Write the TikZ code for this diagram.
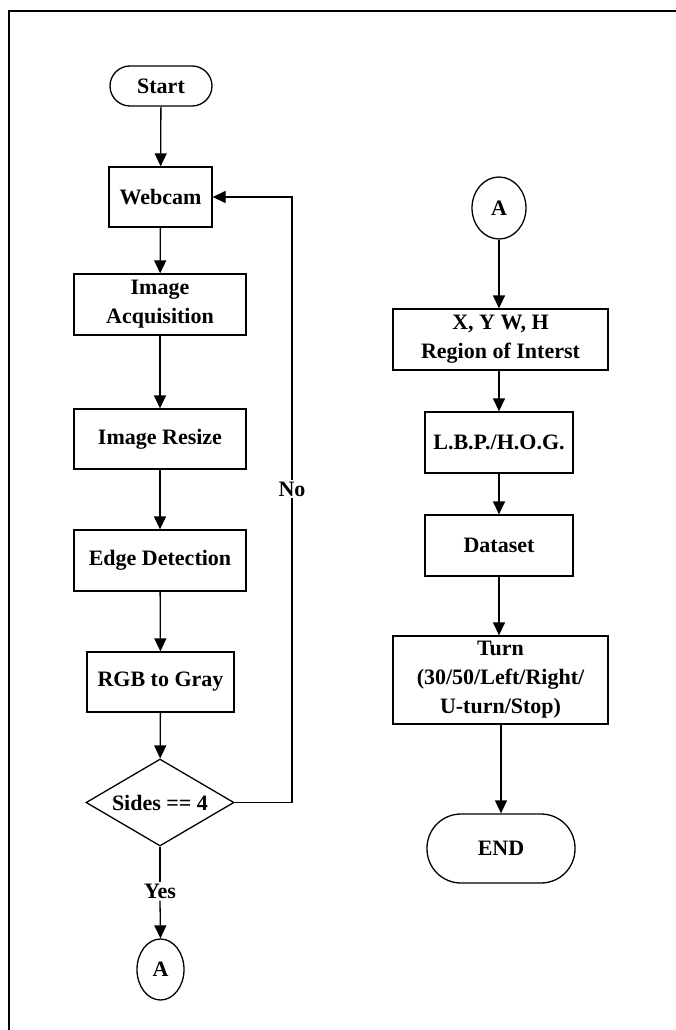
\documentclass[tikz,border=0pt]{standalone}
\usepackage{fontspec}
\setmainfont{Liberation Serif}
\usetikzlibrary{shapes.geometric,arrows.meta}
\tikzset{
  every node/.style={font=\bfseries\fontsize{22}{29}\selectfont, inner sep=0pt, align=center},
  procbox/.style={draw, rectangle, line width=1.3pt},
  termbox/.style={draw, rectangle, line width=1.3pt},
  connector/.style={draw, ellipse, line width=1.3pt},
  decision/.style={draw, diamond, aspect=1.7, line width=1.3pt},
  edgelabel/.style={inner xsep=0pt, inner ysep=2pt},
  flow/.style={line width=1.3pt, -{Triangle[length=13pt,width=12pt]}},
  plain/.style={line width=1.3pt}
}
\begin{document}
\begin{tikzpicture}[x=1pt,y=-1pt]
\useasboundingbox (0,0) rectangle (675,1030);
% frame
\draw[line width=2pt] (9,1032) -- (9,11) -- (677,11);

% left column
\node[termbox, rounded corners=20pt, minimum width=102pt, minimum height=40pt] (start) at (161,86) {Start};
\node[procbox, minimum width=103pt, minimum height=60pt] (webcam) at (160.5,197) {Webcam};
\node[procbox, minimum width=172pt, minimum height=61pt] (acq) at (160,304.5) {Image\\Acquisition};
\node[procbox, minimum width=172pt, minimum height=60pt] (resize) at (160,439) {Image Resize};
\node[procbox, minimum width=172pt, minimum height=61pt] (edge) at (160,560.5) {Edge Detection};
\node[procbox, minimum width=147pt, minimum height=60pt] (rgb) at (160.5,682) {RGB to Gray};
\node[decision, minimum width=148pt, minimum height=87pt] (dec) at (160,802.5) {Sides == 4};
\node[edgelabel] (yes) at (160,891) {Yes};
\node[connector, minimum width=47pt, minimum height=61pt] (ca) at (160.5,969.5) {A};
\node[edgelabel, inner ysep=1pt] (no) at (292,489) {No};

\draw[flow] (start) -- (webcam);
\draw[flow] (webcam) -- (acq);
\draw[flow] (acq) -- (resize);
\draw[flow] (resize) -- (edge);
\draw[flow] (edge) -- (rgb);
\draw[flow] (rgb) -- (dec);
\draw[plain] (dec.south) -- (yes.north);
\draw[flow] (yes.south) -- (ca.north);
\draw[plain] (dec.east) -| (no.south);
\draw[flow] (no.north) |- (webcam.east);

% right column
\node[connector, minimum width=54pt, minimum height=62pt] (cb) at (499,208) {A};
\node[procbox, minimum width=215pt, minimum height=61pt] (roi) at (500.5,339.5) {X, Y W, H\\Region of Interst};
\node[procbox, minimum width=148pt, minimum height=61pt] (lbp) at (499,442.5) {L.B.P./H.O.G.};
\node[procbox, minimum width=148pt, minimum height=61pt] (data) at (499,545.5) {Dataset};
\node[procbox, minimum width=215pt, minimum height=88pt] (turn) at (500.5,680) {Turn\\(30/50/Left/Right/\\U-turn/Stop)};
\node[termbox, rounded corners=34pt, minimum width=148pt, minimum height=69pt] (endn) at (501,848.5) {END};

\draw[flow] (cb) -- (cb |- roi.north);
\draw[flow] (roi.south -| lbp) -- (lbp);
\draw[flow] (lbp) -- (data);
\draw[flow] (data) -- (data |- turn.north);
\draw[flow] (turn.south -| endn) -- (endn);
\end{tikzpicture}
\end{document}
